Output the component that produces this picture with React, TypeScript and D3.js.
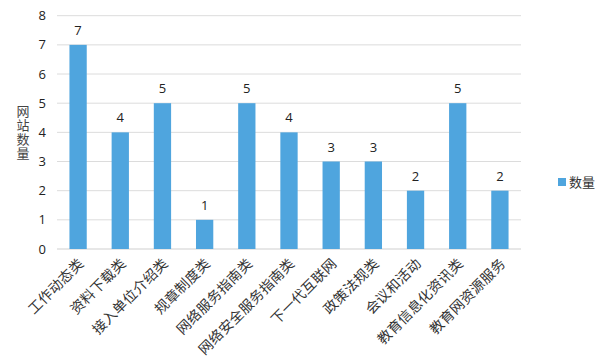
import React from "react";
import * as d3 from "d3";

const categories = ["工作动态类", "资料下载类", "接入单位介绍类", "规章制度类", "网络服务指南类", "网络安全服务指南类", "下一代互联网", "政策法规类", "会议和活动", "教育信息化资讯类", "教育网资源服务"];
const values = [7, 4, 5, 1, 5, 4, 3, 3, 2, 5, 2];
const yTicks = [0, 1, 2, 3, 4, 5, 6, 7, 8];
const seriesName = "数量";
const yTitle = "网站数量";

const W = 599, H = 358;
const left = 57, right = 521, top = 15.7, bottom = 249;
const barColor = "#4fa5de";
const cjk = "'Noto Sans CJK SC', sans-serif";
const num = "'Open Sans', 'Noto Sans', sans-serif";

export default function App() {
  const x = d3.scaleBand<string>().domain(categories).range([left, right]).paddingInner(0.59).paddingOuter(0.295);
  const y = d3.scaleLinear().domain([0, 8]).range([bottom, top]);
  return (
    <svg width={W} height={H} style={{ position: "absolute", left: 0, top: 0, background: "#fff" }}>
      {yTicks.map(t => (
        <g key={t}>
          <line x1={left} x2={right} y1={y(t)} y2={y(t)} stroke={t === 0 ? "#cfcfcf" : "#dcdcdc"} strokeWidth={1} />
          <text x={46} y={y(t)} dy="0.35em" textAnchor="end" fontFamily={num} fontSize={13} fill="#222">{t}</text>
        </g>
      ))}
      <text x={23} y={133} textAnchor="middle" fontFamily={cjk} fontSize={13} letterSpacing={1} fill="#444" style={{ writingMode: "vertical-rl" }}>{yTitle}</text>
      {categories.map((c, i) => {
        const bx = x(c)!;
        const bw = x.bandwidth();
        const cx = bx + bw / 2;
        return (
          <g key={c}>
            <rect x={bx} y={y(values[i])} width={bw} height={bottom - y(values[i])} fill={barColor} />
            <text x={cx} y={y(values[i]) - 10} textAnchor="middle" fontFamily={num} fontSize={13} fill="#222">{values[i]}</text>
            <text transform={`translate(${cx + 3},${bottom + 12}) rotate(-45)`} textAnchor="end" dy="0.35em" fontFamily={cjk} fontSize={14} letterSpacing={0.3} fill="#333">{c}</text>
          </g>
        );
      })}
      <rect x={558} y={178} width={8} height={8} fill={barColor} />
      <text x={569} y={182} dy="0.35em" fontFamily={cjk} fontSize={13} fill="#333">{seriesName}</text>
    </svg>
  );
}
